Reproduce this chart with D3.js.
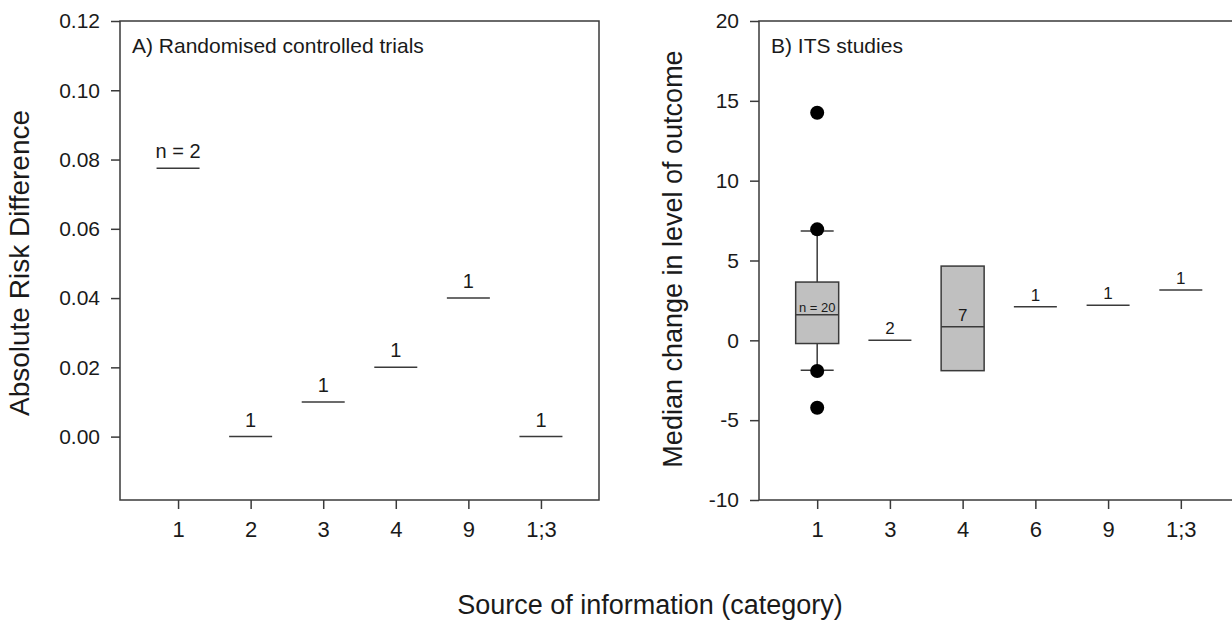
<!DOCTYPE html>
<html>
<head>
<meta charset="utf-8">
<script src="https://cdn.jsdelivr.net/npm/d3@7"></script>
<style>
  body { margin: 0; background: #fff; }
  text { font-family: "Liberation Sans", Arial, sans-serif; fill: #1a1a1a; }
</style>
</head>
<body>
<script>
// Panel A data (randomised controlled trials)
var catsA = ["1", "2", "3", "4", "9", "1;3"];
var riskDiffA = [0.0775, 0, 0.01, 0.02, 0.04, 0];
var nLabelsA = ["n = 2", "1", "1", "1", "1", "1"];
var yTicksA = [0, 0.02, 0.04, 0.06, 0.08, 0.10, 0.12];

// Panel B data (ITS studies)
var catsB = ["1", "3", "4", "6", "9", "1;3"];
var medianB = [1.6, 0, 0.85, 2.1, 2.2, 3.15];
var q1B = [-0.2, null, -1.9, null, null, null];
var q3B = [3.65, null, 4.65, null, null, null];
var whiskLoB = [-1.88, null, null, null, null, null];
var whiskHiB = [6.85, null, null, null, null, null];
var outliersB = [[14.25, 6.95, -1.92, -4.22], [], [], [], [], []];
var nLabelsB = ["n = 20", "2", "7", "1", "1", "1"];
var yTicksB = [-10, -5, 0, 5, 10, 15, 20];

var W = 1232, H = 622;
var plotTop = 21, plotBottom = 500;
var lineCol = "#3a3a3a";
var halfW = 21.5;

var svg = d3.select("body").append("svg")
    .attr("width", W)
    .attr("height", H);

// draws frame + axes for one panel, returns scales
function makePanel(x0, x1, cats, yDomain, yTicks, fmt, title) {
    var x = d3.scalePoint().domain(cats).range([x0, x1]).padding(0.8);
    var y = d3.scaleLinear().domain(yDomain).range([plotBottom, plotTop]);

    var g = svg.append("g");

    g.append("rect")
        .attr("x", x0).attr("y", plotTop)
        .attr("width", x1 - x0).attr("height", plotBottom - plotTop)
        .attr("fill", "none")
        .attr("stroke", lineCol)
        .attr("stroke-width", 1.5);

    var ya = g.append("g")
        .attr("transform", "translate(" + x0 + ",0)")
        .call(d3.axisLeft(y).tickValues(yTicks).tickSize(9).tickPadding(11).tickFormat(fmt));
    var xa = g.append("g")
        .attr("transform", "translate(0," + plotBottom + ")")
        .call(d3.axisBottom(x).tickSize(9).tickPadding(12));

    [ya, xa].forEach(function (a, k) {
        a.select(".domain").remove();
        a.selectAll(".tick line").attr("stroke", lineCol).attr("stroke-width", 1.5);
        a.selectAll(".tick text")
            .style("font-family", "'Liberation Sans', Arial, sans-serif")
            .style("font-size", k === 0 ? "21px" : "22px")
            .attr("fill", "#1a1a1a");
    });

    g.append("text")
        .attr("x", x0 + 12).attr("y", 53)
        .style("font-size", "21px")
        .text(title);

    return { x: x, y: y, g: g };
}

// plain hyphen for negatives, like the original
var fmtB = function (d) { return String(d); };

// Panel A
var A = makePanel(120, 599, catsA, [-0.0183, 0.12], yTicksA, d3.format(".2f"), "A) Randomised controlled trials");

A.g.selectAll("line.med")
    .data(riskDiffA)
    .enter().append("line")
    .attr("class", "med")
    .attr("x1", function (d, i) { return A.x(catsA[i]) - halfW; })
    .attr("x2", function (d, i) { return A.x(catsA[i]) + halfW; })
    .attr("y1", function (d) { return A.y(d); })
    .attr("y2", function (d) { return A.y(d); })
    .attr("stroke", lineCol)
    .attr("stroke-width", 1.5);

A.g.selectAll("text.n")
    .data(nLabelsA)
    .enter().append("text")
    .attr("class", "n")
    .attr("x", function (d, i) { return A.x(catsA[i]); })
    .attr("y", function (d, i) { return A.y(riskDiffA[i]) - 10; })
    .attr("text-anchor", "middle")
    .style("font-size", "20px")
    .text(function (d) { return d; });

// Panel B (right edge runs past the picture)
var B = makePanel(759, 1239, catsB, [-10, 20], yTicksB, fmtB, "B) ITS studies");

catsB.forEach(function (c, i) {
    var cx = B.x(c);
    if (q1B[i] != null) {
        if (whiskHiB[i] != null) {
            B.g.append("line")
                .attr("x1", cx).attr("x2", cx)
                .attr("y1", B.y(q3B[i])).attr("y2", B.y(whiskHiB[i]))
                .attr("stroke", lineCol).attr("stroke-width", 1.5);
            B.g.append("line")
                .attr("x1", cx - 16.5).attr("x2", cx + 16.5)
                .attr("y1", B.y(whiskHiB[i])).attr("y2", B.y(whiskHiB[i]))
                .attr("stroke", lineCol).attr("stroke-width", 1.5);
        }
        if (whiskLoB[i] != null) {
            B.g.append("line")
                .attr("x1", cx).attr("x2", cx)
                .attr("y1", B.y(q1B[i])).attr("y2", B.y(whiskLoB[i]))
                .attr("stroke", lineCol).attr("stroke-width", 1.5);
            B.g.append("line")
                .attr("x1", cx - 16.5).attr("x2", cx + 16.5)
                .attr("y1", B.y(whiskLoB[i])).attr("y2", B.y(whiskLoB[i]))
                .attr("stroke", lineCol).attr("stroke-width", 1.5);
        }
        B.g.append("rect")
            .attr("x", cx - halfW).attr("width", 2 * halfW)
            .attr("y", B.y(q3B[i]))
            .attr("height", B.y(q1B[i]) - B.y(q3B[i]))
            .attr("fill", "#c0c0c0")
            .attr("stroke", lineCol).attr("stroke-width", 1.5);
    }
    B.g.append("line")
        .attr("x1", cx - halfW).attr("x2", cx + halfW)
        .attr("y1", B.y(medianB[i])).attr("y2", B.y(medianB[i]))
        .attr("stroke", lineCol).attr("stroke-width", 1.5);

    B.g.selectAll("circle.o" + i)
        .data(outliersB[i])
        .enter().append("circle")
        .attr("cx", cx)
        .attr("cy", function (d) { return B.y(d); })
        .attr("r", 7)
        .attr("fill", "#000");

    var small = nLabelsB[i].indexOf("n") === 0;
    B.g.append("text")
        .attr("x", cx)
        .attr("y", B.y(medianB[i]) - (small ? 3 : 6))
        .attr("text-anchor", "middle")
        .style("font-size", small ? "13px" : "17px")
        .text(nLabelsB[i]);
});

// Shared axis titles
svg.append("text")
    .attr("transform", "translate(29,263) rotate(-90)")
    .attr("text-anchor", "middle")
    .style("font-size", "28px")
    .text("Absolute Risk Difference");

svg.append("text")
    .attr("transform", "translate(682,259) rotate(-90)")
    .attr("text-anchor", "middle")
    .style("font-size", "27px")
    .text("Median change in level of outcome");

svg.append("text")
    .attr("x", 650).attr("y", 614)
    .attr("text-anchor", "middle")
    .style("font-size", "27px")
    .text("Source of information (category)");
</script>
</body>
</html>
